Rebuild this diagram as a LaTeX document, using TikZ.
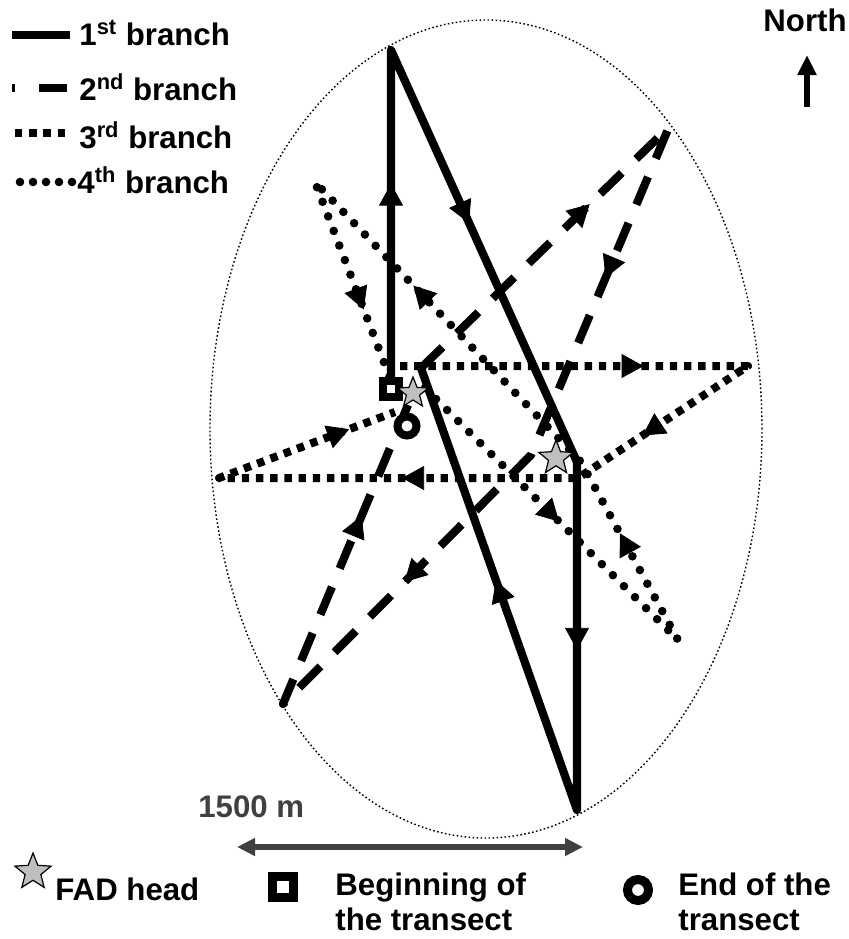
\documentclass[tikz,border=0pt]{standalone}
\usepackage{fontspec}
\setmainfont{Liberation Sans}
\usepackage{xcolor}
\usetikzlibrary{arrows.meta, shapes.geometric, decorations.markings}

\definecolor{scalegray}{HTML}{404040}

\begin{document}
\begin{tikzpicture}[
    x=0.5pt, y=-0.5pt,
    >={Triangle[length=11pt, width=12pt]},
    midarrow/.style={postaction={decorate, decoration={markings, mark=at position #1 with {\arrow{>}}}}},
    first/.style={line width=4.1pt, line join=round},
    second/.style={line width=4.1pt, line join=round, dash pattern=on 15pt off 10pt},
    third/.style={line width=4pt, line join=round, dash pattern=on 3.7pt off 3.4pt},
    fourth/.style={line width=4.3pt, line cap=round, line join=round, dash pattern=on 0pt off 7.8pt},
    area/.style={line width=0.7pt, dash pattern=on 0.8pt off 1.2pt},
    fad/.style={star, star points=5, star point ratio=2.3, draw, fill=black!25, line width=0.6pt, inner sep=0pt},
    startbox/.style={rectangle, draw, fill=white, line width=4pt, minimum size=8pt, inner sep=0pt},
    endring/.style={circle, draw, fill=white, line width=4pt, minimum size=9.5pt, inner sep=0pt},
    legtext/.style={font=\fontsize{15.6}{18}\selectfont\bfseries, inner sep=0pt, anchor=base west, align=left}
]
\useasboundingbox (0,0) rectangle (849,939);

% Study area
\draw[area] (486,429) ellipse [x radius=138pt, y radius=204.5pt];

% Turning points
\coordinate (b1start) at (391,384);
\coordinate (b1top) at (391,50);
\coordinate (b1bend) at (577,462);
\coordinate (b1bot) at (577,810);
\coordinate (b1end) at (421,368);

\coordinate (b2top) at (669,127);
\coordinate (b2bend) at (531,455);
\coordinate (b2bot) at (283,704);
\coordinate (b2end) at (408,405);

\coordinate (b3start) at (400,366);
\coordinate (b3right) at (748,366);
\coordinate (b3bend) at (578,478);
\coordinate (b3left) at (219,478);
\coordinate (b3end) at (395,412);

\coordinate (b4start) at (425,388);
\coordinate (b4bot) at (678,640);
\coordinate (b4bend) at (581,462);
\coordinate (b4top) at (315,182);
\coordinate (b4end) at (390,378);

% 1st branch
\draw[first] (b1start) -- (b1top) -- (b1bend) -- (b1bot) -- (b1end);
\path[midarrow=0.6] (b1start) -- (b1top);
\path[midarrow=0.42] (b1top) -- (b1bend);
\path[midarrow=0.54] (b1bend) -- (b1bot);
\path[midarrow=0.52] (b1bot) -- (b1end);

% 2nd branch
\draw[second] (b1end) -- (b2top) -- (b2bend) -- (b2bot) -- (b2end);
\path[midarrow=0.68] (b1end) -- (b2top);
\path[midarrow=0.46] (b2top) -- (b2bend);
\path[midarrow=0.51] (b2bend) -- (b2bot);
\path[midarrow=0.63] (b2bot) -- (b2end);

% 3rd branch
\draw[third] (b3start) -- (b3right) -- (b3bend) -- (b3left) -- (b3end);
\path[midarrow=0.7] (b3start) -- (b3right);
\path[midarrow=0.62] (b3right) -- (b3bend);
\path[midarrow=0.49] (b3bend) -- (b3left);
\path[midarrow=0.74] (b3left) -- (b3end);

% 4th branch
\draw[fourth] (b4start) -- (b4bot) -- (b4bend) -- (b4top) -- (b4end);
\path[midarrow=0.53] (b4start) -- (b4bot);
\path[midarrow=0.6] (b4bot) -- (b4bend);
\path[midarrow=0.63] (b4bend) -- (b4top);
\path[midarrow=0.65] (b4top) -- (b4end);

% Markers
\node[startbox] (start) at (391,389) {};
\node[fad, minimum size=16pt] (fadA) at (413,393) {};
\node[endring] (finish) at (407,426) {};
\node[fad, minimum size=18pt] (fadB) at (556,458) {};

% Branch legend
\coordinate (l1a) at (12,35);  \coordinate (l1b) at (70,35);
\coordinate (l2a) at (12,88);  \coordinate (l2b) at (68,88);
\coordinate (l3a) at (15,133); \coordinate (l3b) at (70,133);
\coordinate (l4a) at (20,182); \coordinate (l4b) at (73,182);
\draw[first] (l1a) -- (l1b);
\draw[second, dash pattern=on 14pt off 12pt, dash phase=12.5pt] (l2a) -- (l2b);
\draw[third] (l3a) -- (l3b);
\draw[fourth, dash pattern=on 0pt off 6.5pt] (l4a) -- (l4b);
\node[legtext] (t1) at (79,45) {1\textsuperscript{st} branch};
\node[legtext] (t2) at (79,100) {2\textsuperscript{nd} branch};
\node[legtext] (t3) at (79,148) {3\textsuperscript{rd} branch};
\node[legtext] (t4) at (77,193) {4\textsuperscript{th} branch};

% North
\node[legtext, anchor=center] (north) at (805,20) {North};
\coordinate (nfoot) at (807,107);
\coordinate (ntip) at (807,55);
\draw[line width=3pt, -{Triangle[length=10pt, width=9pt]}] (nfoot) -- (ntip);

% Scale bar
\coordinate (sbl) at (237,847);
\coordinate (sbr) at (583,847);
\draw[scalegray, line width=3pt, {Triangle[length=9pt, width=8.5pt]}-{Triangle[length=9pt, width=8.5pt]}] (sbl) -- (sbr);
\node[legtext, text=scalegray] (scale) at (198,817) {1500 m};

% Marker legend
\node[fad, minimum size=19pt] (fadkey) at (33,872) {};
\node[legtext] (fadtext) at (55,900) {FAD head};
\node[startbox, line width=4.5pt, minimum size=10.5pt] (startkey) at (283,887) {};
\node[legtext] (starttext) at (335,895) {Beginning of};
\node[legtext] (starttext2) at (335,930) {the transect};
\node[endring, line width=4.5pt, minimum size=10.5pt] (endkey) at (638,890) {};
\node[legtext] (endtext) at (678,895) {End of the};
\node[legtext] (endtext2) at (678,930) {transect};

\end{tikzpicture}
\end{document}
